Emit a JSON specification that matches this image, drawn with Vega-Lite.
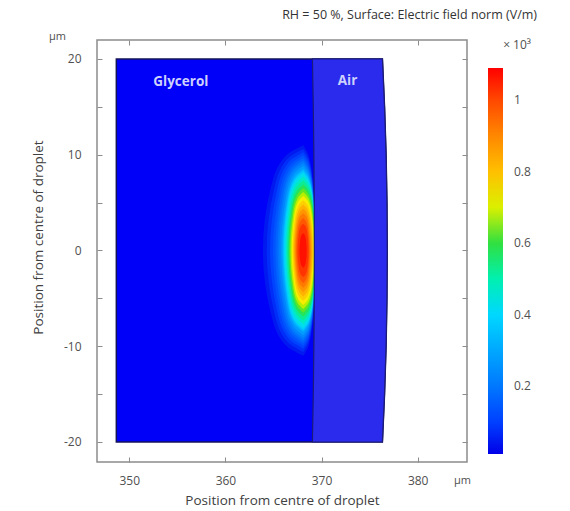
{
  "$schema": "https://vega.github.io/schema/vega-lite/v6.json",
  "width": 370,
  "height": 422,
  "autosize": "none",
  "padding": {"left": 97, "top": 40, "right": 103, "bottom": 49},
  "background": "white",
  "config": {
    "font": "Open Sans",
    "view": {"stroke": "#8c8c8c", "strokeWidth": 1.5}
  },
  "title": {
    "text": "RH = 50 %, Surface: Electric field norm (V/m)",
    "anchor": "end",
    "frame": "group",
    "dx": 70,
    "offset": 9,
    "fontSize": 12.5,
    "fontWeight": "normal",
    "color": "#333333",
    "font": "Open Sans"
  },
  "datasets": {
    "droplet": [
      {"y": -20, "x": 348.65, "x2": 376.33, "xa": 369.05},
      {"y": -15, "x": 348.65, "x2": 376.55, "xa": 369.14},
      {"y": -10, "x": 348.65, "x2": 376.71, "xa": 369.2},
      {"y": -5, "x": 348.65, "x2": 376.8, "xa": 369.24},
      {"y": 0, "x": 348.65, "x2": 376.83, "xa": 369.25},
      {"y": 5, "x": 348.65, "x2": 376.8, "xa": 369.24},
      {"y": 10, "x": 348.65, "x2": 376.71, "xa": 369.2},
      {"y": 15, "x": 348.65, "x2": 376.55, "xa": 369.14},
      {"y": 20, "x": 348.65, "x2": 376.33, "xa": 369.05}
    ],
    "blob": [
      {"lev": 0.03, "c": 0.045, "y": -11.0, "x": 368.1, "x2": 368.1},
      {"lev": 0.03, "c": 0.045, "y": -9.9, "x": 366.27, "x2": 368.67},
      {"lev": 0.03, "c": 0.045, "y": -6.6, "x": 364.74, "x2": 369.14},
      {"lev": 0.03, "c": 0.045, "y": 0, "x": 363.9, "x2": 369.4},
      {"lev": 0.03, "c": 0.045, "y": 6.6, "x": 364.74, "x2": 369.14},
      {"lev": 0.03, "c": 0.045, "y": 9.9, "x": 366.27, "x2": 368.67},
      {"lev": 0.03, "c": 0.045, "y": 11.0, "x": 368.1, "x2": 368.1},

      {"lev": 0.06, "c": 0.075, "y": -10.6, "x": 368.1, "x2": 368.1},
      {"lev": 0.06, "c": 0.075, "y": -9.54, "x": 366.44, "x2": 368.67},
      {"lev": 0.06, "c": 0.075, "y": -6.36, "x": 365.06, "x2": 369.14},
      {"lev": 0.06, "c": 0.075, "y": 0, "x": 364.3, "x2": 369.4},
      {"lev": 0.06, "c": 0.075, "y": 6.36, "x": 365.06, "x2": 369.14},
      {"lev": 0.06, "c": 0.075, "y": 9.54, "x": 366.44, "x2": 368.67},
      {"lev": 0.06, "c": 0.075, "y": 10.6, "x": 368.1, "x2": 368.1},

      {"lev": 0.09, "c": 0.105, "y": -10.25, "x": 368.1, "x2": 368.1},
      {"lev": 0.09, "c": 0.105, "y": -9.23, "x": 366.6, "x2": 368.67},
      {"lev": 0.09, "c": 0.105, "y": -6.15, "x": 365.34, "x2": 369.14},
      {"lev": 0.09, "c": 0.105, "y": 0, "x": 364.65, "x2": 369.4},
      {"lev": 0.09, "c": 0.105, "y": 6.15, "x": 365.34, "x2": 369.14},
      {"lev": 0.09, "c": 0.105, "y": 9.23, "x": 366.6, "x2": 368.67},
      {"lev": 0.09, "c": 0.105, "y": 10.25, "x": 368.1, "x2": 368.1},

      {"lev": 0.12, "c": 0.135, "y": -9.95, "x": 368.1, "x2": 368.1},
      {"lev": 0.12, "c": 0.135, "y": -8.96, "x": 366.73, "x2": 368.67},
      {"lev": 0.12, "c": 0.135, "y": -5.97, "x": 365.58, "x2": 369.14},
      {"lev": 0.12, "c": 0.135, "y": 0, "x": 364.95, "x2": 369.4},
      {"lev": 0.12, "c": 0.135, "y": 5.97, "x": 365.58, "x2": 369.14},
      {"lev": 0.12, "c": 0.135, "y": 8.96, "x": 366.73, "x2": 368.67},
      {"lev": 0.12, "c": 0.135, "y": 9.95, "x": 368.1, "x2": 368.1},

      {"lev": 0.15, "c": 0.165, "y": -9.65, "x": 368.1, "x2": 368.1},
      {"lev": 0.15, "c": 0.165, "y": -8.69, "x": 366.84, "x2": 368.67},
      {"lev": 0.15, "c": 0.165, "y": -5.79, "x": 365.78, "x2": 369.14},
      {"lev": 0.15, "c": 0.165, "y": 0, "x": 365.2, "x2": 369.4},
      {"lev": 0.15, "c": 0.165, "y": 5.79, "x": 365.78, "x2": 369.14},
      {"lev": 0.15, "c": 0.165, "y": 8.69, "x": 366.84, "x2": 368.67},
      {"lev": 0.15, "c": 0.165, "y": 9.65, "x": 368.1, "x2": 368.1},

      {"lev": 0.18, "c": 0.195, "y": -9.4, "x": 368.1, "x2": 368.1},
      {"lev": 0.18, "c": 0.195, "y": -8.46, "x": 366.93, "x2": 368.67},
      {"lev": 0.18, "c": 0.195, "y": -5.64, "x": 365.96, "x2": 369.14},
      {"lev": 0.18, "c": 0.195, "y": 0, "x": 365.42, "x2": 369.4},
      {"lev": 0.18, "c": 0.195, "y": 5.64, "x": 365.96, "x2": 369.14},
      {"lev": 0.18, "c": 0.195, "y": 8.46, "x": 366.93, "x2": 368.67},
      {"lev": 0.18, "c": 0.195, "y": 9.4, "x": 368.1, "x2": 368.1},

      {"lev": 0.21, "c": 0.23, "y": -9.15, "x": 368.1, "x2": 368.1},
      {"lev": 0.21, "c": 0.23, "y": -8.24, "x": 367.01, "x2": 368.67},
      {"lev": 0.21, "c": 0.23, "y": -5.49, "x": 366.1, "x2": 369.14},
      {"lev": 0.21, "c": 0.23, "y": 0, "x": 365.6, "x2": 369.4},
      {"lev": 0.21, "c": 0.23, "y": 5.49, "x": 366.1, "x2": 369.14},
      {"lev": 0.21, "c": 0.23, "y": 8.24, "x": 367.01, "x2": 368.67},
      {"lev": 0.21, "c": 0.23, "y": 9.15, "x": 368.1, "x2": 368.1},

      {"lev": 0.25, "c": 0.275, "y": -8.85, "x": 368.1, "x2": 368.1},
      {"lev": 0.25, "c": 0.275, "y": -7.97, "x": 367.1, "x2": 368.67},
      {"lev": 0.25, "c": 0.275, "y": -5.31, "x": 366.26, "x2": 369.14},
      {"lev": 0.25, "c": 0.275, "y": 0, "x": 365.8, "x2": 369.4},
      {"lev": 0.25, "c": 0.275, "y": 5.31, "x": 366.26, "x2": 369.14},
      {"lev": 0.25, "c": 0.275, "y": 7.97, "x": 367.1, "x2": 368.67},
      {"lev": 0.25, "c": 0.275, "y": 8.85, "x": 368.1, "x2": 368.1},

      {"lev": 0.3, "c": 0.325, "y": -8.5, "x": 368.1, "x2": 368.1},
      {"lev": 0.3, "c": 0.325, "y": -7.65, "x": 367.16, "x2": 368.67},
      {"lev": 0.3, "c": 0.325, "y": -5.1, "x": 366.38, "x2": 369.14},
      {"lev": 0.3, "c": 0.325, "y": 0, "x": 365.95, "x2": 369.4},
      {"lev": 0.3, "c": 0.325, "y": 5.1, "x": 366.38, "x2": 369.14},
      {"lev": 0.3, "c": 0.325, "y": 7.65, "x": 367.16, "x2": 368.67},
      {"lev": 0.3, "c": 0.325, "y": 8.5, "x": 368.1, "x2": 368.1},

      {"lev": 0.35, "c": 0.375, "y": -8.3, "x": 368.1, "x2": 368.1},
      {"lev": 0.35, "c": 0.375, "y": -7.47, "x": 367.21, "x2": 368.67},
      {"lev": 0.35, "c": 0.375, "y": -4.98, "x": 366.46, "x2": 369.14},
      {"lev": 0.35, "c": 0.375, "y": 0, "x": 366.05, "x2": 369.4},
      {"lev": 0.35, "c": 0.375, "y": 4.98, "x": 366.46, "x2": 369.14},
      {"lev": 0.35, "c": 0.375, "y": 7.47, "x": 367.21, "x2": 368.67},
      {"lev": 0.35, "c": 0.375, "y": 8.3, "x": 368.1, "x2": 368.1},

      {"lev": 0.4, "c": 0.425, "y": -8.1, "x": 368.1, "x2": 368.1},
      {"lev": 0.4, "c": 0.425, "y": -7.29, "x": 367.25, "x2": 368.67},
      {"lev": 0.4, "c": 0.425, "y": -4.86, "x": 366.54, "x2": 369.14},
      {"lev": 0.4, "c": 0.425, "y": 0, "x": 366.15, "x2": 369.4},
      {"lev": 0.4, "c": 0.425, "y": 4.86, "x": 366.54, "x2": 369.14},
      {"lev": 0.4, "c": 0.425, "y": 7.29, "x": 367.25, "x2": 368.67},
      {"lev": 0.4, "c": 0.425, "y": 8.1, "x": 368.1, "x2": 368.1},

      {"lev": 0.45, "c": 0.475, "y": -7.7, "x": 368.1, "x2": 368.1},
      {"lev": 0.45, "c": 0.475, "y": -6.93, "x": 367.32, "x2": 368.67},
      {"lev": 0.45, "c": 0.475, "y": -4.62, "x": 366.66, "x2": 369.14},
      {"lev": 0.45, "c": 0.475, "y": 0, "x": 366.3, "x2": 369.4},
      {"lev": 0.45, "c": 0.475, "y": 4.62, "x": 366.66, "x2": 369.14},
      {"lev": 0.45, "c": 0.475, "y": 6.93, "x": 367.32, "x2": 368.67},
      {"lev": 0.45, "c": 0.475, "y": 7.7, "x": 368.1, "x2": 368.1},

      {"lev": 0.5, "c": 0.525, "y": -7.3, "x": 368.1, "x2": 368.1},
      {"lev": 0.5, "c": 0.525, "y": -6.57, "x": 367.37, "x2": 368.67},
      {"lev": 0.5, "c": 0.525, "y": -4.38, "x": 366.76, "x2": 369.14},
      {"lev": 0.5, "c": 0.525, "y": 0, "x": 366.42, "x2": 369.4},
      {"lev": 0.5, "c": 0.525, "y": 4.38, "x": 366.76, "x2": 369.14},
      {"lev": 0.5, "c": 0.525, "y": 6.57, "x": 367.37, "x2": 368.67},
      {"lev": 0.5, "c": 0.525, "y": 7.3, "x": 368.1, "x2": 368.1},

      {"lev": 0.55, "c": 0.575, "y": -6.9, "x": 368.1, "x2": 368.1},
      {"lev": 0.55, "c": 0.575, "y": -6.21, "x": 367.42, "x2": 368.67},
      {"lev": 0.55, "c": 0.575, "y": -4.14, "x": 366.85, "x2": 369.14},
      {"lev": 0.55, "c": 0.575, "y": 0, "x": 366.54, "x2": 369.4},
      {"lev": 0.55, "c": 0.575, "y": 4.14, "x": 366.85, "x2": 369.14},
      {"lev": 0.55, "c": 0.575, "y": 6.21, "x": 367.42, "x2": 368.67},
      {"lev": 0.55, "c": 0.575, "y": 6.9, "x": 368.1, "x2": 368.1},

      {"lev": 0.6, "c": 0.625, "y": -6.5, "x": 368.1, "x2": 368.1},
      {"lev": 0.6, "c": 0.625, "y": -5.85, "x": 367.47, "x2": 368.65},
      {"lev": 0.6, "c": 0.625, "y": -3.9, "x": 366.94, "x2": 369.1},
      {"lev": 0.6, "c": 0.625, "y": 0, "x": 366.65, "x2": 369.35},
      {"lev": 0.6, "c": 0.625, "y": 3.9, "x": 366.94, "x2": 369.1},
      {"lev": 0.6, "c": 0.625, "y": 5.85, "x": 367.47, "x2": 368.65},
      {"lev": 0.6, "c": 0.625, "y": 6.5, "x": 368.1, "x2": 368.1},

      {"lev": 0.65, "c": 0.675, "y": -6.1, "x": 368.1, "x2": 368.1},
      {"lev": 0.65, "c": 0.675, "y": -5.49, "x": 367.52, "x2": 368.62},
      {"lev": 0.65, "c": 0.675, "y": -3.66, "x": 367.04, "x2": 369.06},
      {"lev": 0.65, "c": 0.675, "y": 0, "x": 366.77, "x2": 369.3},
      {"lev": 0.65, "c": 0.675, "y": 3.66, "x": 367.04, "x2": 369.06},
      {"lev": 0.65, "c": 0.675, "y": 5.49, "x": 367.52, "x2": 368.62},
      {"lev": 0.65, "c": 0.675, "y": 6.1, "x": 368.1, "x2": 368.1},

      {"lev": 0.7, "c": 0.725, "y": -5.7, "x": 368.1, "x2": 368.1},
      {"lev": 0.7, "c": 0.725, "y": -5.13, "x": 367.58, "x2": 368.59},
      {"lev": 0.7, "c": 0.725, "y": -3.42, "x": 367.14, "x2": 369.0},
      {"lev": 0.7, "c": 0.725, "y": 0, "x": 366.9, "x2": 369.22},
      {"lev": 0.7, "c": 0.725, "y": 3.42, "x": 367.14, "x2": 369.0},
      {"lev": 0.7, "c": 0.725, "y": 5.13, "x": 367.58, "x2": 368.59},
      {"lev": 0.7, "c": 0.725, "y": 5.7, "x": 368.1, "x2": 368.1},

      {"lev": 0.75, "c": 0.775, "y": -5.25, "x": 368.1, "x2": 368.1},
      {"lev": 0.75, "c": 0.775, "y": -4.73, "x": 367.62, "x2": 368.55},
      {"lev": 0.75, "c": 0.775, "y": -3.15, "x": 367.22, "x2": 368.92},
      {"lev": 0.75, "c": 0.775, "y": 0, "x": 367.0, "x2": 369.13},
      {"lev": 0.75, "c": 0.775, "y": 3.15, "x": 367.22, "x2": 368.92},
      {"lev": 0.75, "c": 0.775, "y": 4.73, "x": 367.62, "x2": 368.55},
      {"lev": 0.75, "c": 0.775, "y": 5.25, "x": 368.1, "x2": 368.1},

      {"lev": 0.8, "c": 0.825, "y": -4.8, "x": 368.1, "x2": 368.1},
      {"lev": 0.8, "c": 0.825, "y": -4.32, "x": 367.66, "x2": 368.51},
      {"lev": 0.8, "c": 0.825, "y": -2.88, "x": 367.3, "x2": 368.86},
      {"lev": 0.8, "c": 0.825, "y": 0, "x": 367.1, "x2": 369.05},
      {"lev": 0.8, "c": 0.825, "y": 2.88, "x": 367.3, "x2": 368.86},
      {"lev": 0.8, "c": 0.825, "y": 4.32, "x": 367.66, "x2": 368.51},
      {"lev": 0.8, "c": 0.825, "y": 4.8, "x": 368.1, "x2": 368.1},

      {"lev": 0.85, "c": 0.875, "y": -4.35, "x": 368.1, "x2": 368.1},
      {"lev": 0.85, "c": 0.875, "y": -3.92, "x": 367.7, "x2": 368.47},
      {"lev": 0.85, "c": 0.875, "y": -2.61, "x": 367.37, "x2": 368.78},
      {"lev": 0.85, "c": 0.875, "y": 0, "x": 367.19, "x2": 368.95},
      {"lev": 0.85, "c": 0.875, "y": 2.61, "x": 367.37, "x2": 368.78},
      {"lev": 0.85, "c": 0.875, "y": 3.92, "x": 367.7, "x2": 368.47},
      {"lev": 0.85, "c": 0.875, "y": 4.35, "x": 368.1, "x2": 368.1},

      {"lev": 0.9, "c": 0.925, "y": -3.9, "x": 368.1, "x2": 368.1},
      {"lev": 0.9, "c": 0.925, "y": -3.51, "x": 367.74, "x2": 368.43},
      {"lev": 0.9, "c": 0.925, "y": -2.34, "x": 367.44, "x2": 368.7},
      {"lev": 0.9, "c": 0.925, "y": 0, "x": 367.28, "x2": 368.85},
      {"lev": 0.9, "c": 0.925, "y": 2.34, "x": 367.44, "x2": 368.7},
      {"lev": 0.9, "c": 0.925, "y": 3.51, "x": 367.74, "x2": 368.43},
      {"lev": 0.9, "c": 0.925, "y": 3.9, "x": 368.1, "x2": 368.1},

      {"lev": 0.95, "c": 0.975, "y": -3.4, "x": 368.1, "x2": 368.1},
      {"lev": 0.95, "c": 0.975, "y": -3.06, "x": 367.79, "x2": 368.38},
      {"lev": 0.95, "c": 0.975, "y": -2.04, "x": 367.52, "x2": 368.62},
      {"lev": 0.95, "c": 0.975, "y": 0, "x": 367.38, "x2": 368.75},
      {"lev": 0.95, "c": 0.975, "y": 2.04, "x": 367.52, "x2": 368.62},
      {"lev": 0.95, "c": 0.975, "y": 3.06, "x": 367.79, "x2": 368.38},
      {"lev": 0.95, "c": 0.975, "y": 3.4, "x": 368.1, "x2": 368.1},

      {"lev": 1.0, "c": 1.025, "y": -2.8, "x": 368.1, "x2": 368.1},
      {"lev": 1.0, "c": 1.025, "y": -2.52, "x": 367.84, "x2": 368.34},
      {"lev": 1.0, "c": 1.025, "y": -1.68, "x": 367.62, "x2": 368.54},
      {"lev": 1.0, "c": 1.025, "y": 0, "x": 367.5, "x2": 368.65},
      {"lev": 1.0, "c": 1.025, "y": 1.68, "x": 367.62, "x2": 368.54},
      {"lev": 1.0, "c": 1.025, "y": 2.52, "x": 367.84, "x2": 368.34},
      {"lev": 1.0, "c": 1.025, "y": 2.8, "x": 368.1, "x2": 368.1},

      {"lev": 1.05, "c": 1.07, "y": -1.8, "x": 368.1, "x2": 368.1},
      {"lev": 1.05, "c": 1.07, "y": -1.62, "x": 367.93, "x2": 368.25},
      {"lev": 1.05, "c": 1.07, "y": -1.08, "x": 367.78, "x2": 368.38},
      {"lev": 1.05, "c": 1.07, "y": 0, "x": 367.7, "x2": 368.45},
      {"lev": 1.05, "c": 1.07, "y": 1.08, "x": 367.78, "x2": 368.38},
      {"lev": 1.05, "c": 1.07, "y": 1.62, "x": 367.93, "x2": 368.25},
      {"lev": 1.05, "c": 1.07, "y": 1.8, "x": 368.1, "x2": 368.1}
    ],
    "labels": [
      {"t": "Glycerol", "x": 355.36, "y": 17.6},
      {"t": "Air", "x": 372.7, "y": 17.7}
    ]
  },
  "layer": [
    {
      "data": {"name": "droplet"},
      "mark": {"type": "area", "orient": "horizontal", "interpolate": "linear", "fill": "#0000f8", "stroke": "#14145a", "strokeWidth": 1.5},
      "encoding": {
        "y": {
          "field": "y", "type": "quantitative",
          "scale": {"domain": [-22.09, 21.98], "nice": false, "zero": false},
          "axis": {
            "orient": "left",
            "values": [-20, -15, -10, -5, 0, 5, 10, 15, 20],
            "labelExpr": "datum.value % 10 === 0 ? '' + datum.value : ''",
            "domain": false, "grid": false,
            "tickSize": -5, "tickColor": "#8c8c8c", "tickWidth": 1,
            "labelFontSize": 12, "labelColor": "#505050", "labelPadding": 21,
            "title": "Position from centre of droplet",
            "titleFontSize": 13.5, "titleFontWeight": "normal", "titleColor": "#404040",
            "titleX": -59, "titleY": 197, "titleAngle": -90, "titleAlign": "center", "titleBaseline": "middle"
          }
        },
        "x": {
          "field": "x", "type": "quantitative", "stack": null,
          "scale": {"domain": [346.64, 385.13], "nice": false, "zero": false},
          "axis": {
            "orient": "bottom",
            "values": [350, 360, 370, 380],
            "domain": false, "grid": false,
            "tickSize": -5, "tickColor": "#8c8c8c", "tickWidth": 1,
            "labelFontSize": 12, "labelColor": "#505050", "labelPadding": 18,
            "title": "Position from centre of droplet",
            "titleFontSize": 13.5, "titleFontWeight": "normal", "titleColor": "#404040",
            "titleY": 38, "titleBaseline": "middle"
          }
        },
        "x2": {"field": "x2"}
      }
    },
    {
      "data": {"name": "blob"},
      "mark": {"type": "area", "orient": "horizontal", "interpolate": "monotone"},
      "encoding": {
        "y": {"field": "y", "type": "quantitative", "axis": null},
        "x": {"field": "x", "type": "quantitative", "stack": null, "axis": null},
        "x2": {"field": "x2"},
        "detail": {"field": "lev", "type": "ordinal"},
        "color": {
          "field": "c", "type": "quantitative",
          "scale": {
            "domain": [0.01, 0.1, 0.2, 0.3, 0.4, 0.5, 0.6, 0.66, 0.72, 0.8, 0.9, 1.0, 1.09],
            "range": ["#0000e8", "#0040ff", "#0078ff", "#00a8ff", "#00d8ff", "#00f0b0", "#30e040", "#a0f000", "#f8f000", "#ffc000", "#ff8800", "#ff4800", "#ff0000"],
            "interpolate": "rgb"
          },
          "legend": {
            "orient": "right",
            "offset": 20,
            "title": "× 10³",
            "titleFontSize": 12,
            "titleFontWeight": "normal",
            "titleColor": "#505050",
            "titleAnchor": "end",
            "titleAlign": "right",
            "titlePadding": 16,
            "values": [0.2, 0.4, 0.6, 0.8, 1],
            "format": "~g",
            "gradientLength": 386,
            "gradientThickness": 15,
            "gradientStrokeWidth": 0,
            "labelOffset": 11,
            "labelFontSize": 12,
            "labelColor": "#505050"
          }
        }
      }
    },
    {
      "data": {"name": "droplet"},
      "mark": {"type": "area", "orient": "horizontal", "interpolate": "linear", "fill": "#2b2bee", "stroke": "#1c1c78", "strokeWidth": 1.2},
      "encoding": {
        "y": {"field": "y", "type": "quantitative", "axis": null},
        "x": {"field": "xa", "type": "quantitative", "stack": null, "axis": null},
        "x2": {"field": "x2"}
      }
    },
    {
      "data": {"name": "labels"},
      "mark": {"type": "text", "fill": "#cdd1fc", "fontSize": 13.5, "fontWeight": "bold", "font": "Open Sans"},
      "encoding": {
        "text": {"field": "t"},
        "x": {
          "field": "x", "type": "quantitative",
          "axis": {
            "orient": "top", "values": [350, 360, 370, 380], "labels": false,
            "domain": false, "grid": false,
            "tickSize": -5, "tickColor": "#8c8c8c", "tickWidth": 1,
            "title": "µm", "titleX": 365, "titleY": 440, "titleAngle": 0,
            "titleAlign": "center", "titleBaseline": "middle",
            "titleFontSize": 11, "titleFontWeight": "normal", "titleColor": "#505050"
          }
        },
        "y": {
          "field": "y", "type": "quantitative",
          "axis": {
            "orient": "right", "values": [-20, -15, -10, -5, 0, 5, 10, 15, 20], "labels": false,
            "domain": false, "grid": false,
            "tickSize": -5, "tickColor": "#8c8c8c", "tickWidth": 1,
            "title": "µm", "titleX": -410, "titleY": -4, "titleAngle": 0,
            "titleAlign": "center", "titleBaseline": "middle",
            "titleFontSize": 11, "titleFontWeight": "normal", "titleColor": "#505050"
          }
        }
      }
    }
  ],
  "resolve": {"axis": {"x": "independent", "y": "independent"}}
}
